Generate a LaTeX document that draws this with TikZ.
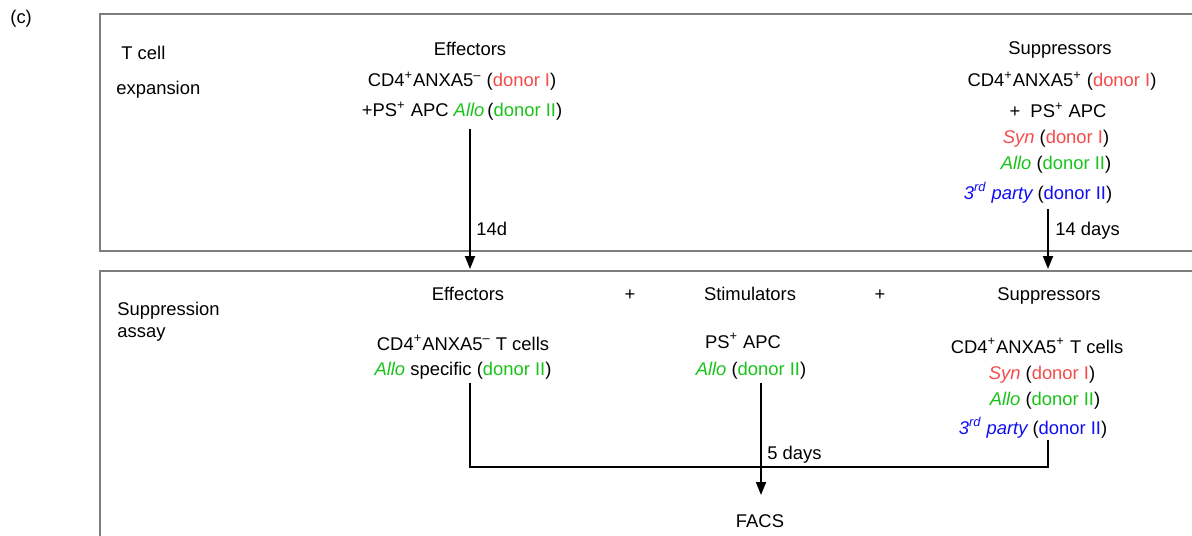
\documentclass[tikz,border=0pt]{standalone}
\usepackage{fontspec}
\setmainfont{Liberation Sans}
\usetikzlibrary{arrows.meta}
\definecolor{dred}{RGB}{245,75,75}
\definecolor{dgreen}{RGB}{25,195,25}
\definecolor{dblue}{RGB}{15,15,240}
\definecolor{frmgray}{RGB}{125,125,125}
\newcommand{\donI}{(\textcolor{dred}{donor I})}
\newcommand{\donII}{(\textcolor{dgreen}{donor II})}
\newcommand{\donIIb}{(\textcolor{dblue}{donor II})}
\newcommand{\allo}{\textcolor{dgreen}{\itshape Allo}}
\newcommand{\syn}{\textcolor{dred}{\itshape Syn}}
\newcommand{\third}{\textcolor{dblue}{\itshape 3\textsuperscript{rd} party}}
\newcommand{\supr}[1]{\textsuperscript{#1}}
\tikzset{
  pane/.style={draw=frmgray, line width=0.7pt},
  txt/.style={font=\fontsize{9.2}{11}\selectfont, inner sep=0pt, anchor=base},
  ltxt/.style={txt, anchor=base west},
  flow/.style={line width=0.9pt},
  arr/.style={flow, -{Triangle[width=5pt,length=6.5pt]}}
}
\begin{document}
\begin{tikzpicture}[x=0.5pt, y=-0.5pt]
    \useasboundingbox (0,0) rectangle (1192,535);
    \clip (0,0) rectangle (1192,535);
    % frames
    \draw[pane] (100,14) rectangle (1210,251);
    \draw[pane] (100,271) rectangle (1210,560);
    \node[ltxt] (tag) at (10,24) {(c)};
    % T cell expansion
    \node[ltxt] (tcA) at (121,60) {T cell};
    \node[ltxt] (tcB) at (116,95) {expansion};
    \node[txt] (teH) at (470,56) {Effectors};
    \node[txt] (teA) at (462,87) {CD4\supr{+}ANXA5\supr{–} \donI};
    \node[txt] (teB) at (462,117) {+PS\supr{+} APC \allo\,\donII};
    \node[txt] (tsH) at (1060,55) {Suppressors};
    \node[txt] (tsA) at (1062,87) {CD4\supr{+}ANXA5\supr{+} \donI};
    \node[txt] (tsB) at (1058,118) {+\ \ PS\supr{+} APC};
    \node[txt] (tsC) at (1056,143) {\syn\ \donI};
    \node[txt] (tsD) at (1056,169) {\allo\ \donII};
    \node[txt] (tsE) at (1038,199) {\third\ \donIIb};
    \coordinate (ta) at (470,269);
    \coordinate (tb) at (1048,269);
    \draw[arr] ([yshift=-4pt]teB.south -| ta) -- (ta);
    \draw[arr] ([yshift=-3pt]tsE.south -| tb) -- (tb);
    \node[ltxt] (dA) at (476,235) {14d};
    \node[ltxt] (dB) at (1055,235) {14 days};
    % suppression assay
    \node[ltxt] (saA) at (117,315) {Suppression};
    \node[ltxt] (saB) at (117,337) {assay};
    \node[txt] (beH) at (468,300) {Effectors};
    \node[txt] (plA) at (630,300) {+};
    \node[txt] (bmH) at (750,300) {Stimulators};
    \node[txt] (plB) at (880,300) {+};
    \node[txt] (bsH) at (1049,300) {Suppressors};
    \node[txt] (beA) at (463,350) {CD4\supr{+}ANXA5\supr{–} T cells};
    \node[txt] (beB) at (463,375) {\allo\ specific \donII};
    \node[txt] (bmA) at (743,348) {PS\supr{+} APC};
    \node[txt] (bmB) at (751,375) {\allo\ \donII};
    \node[txt] (bsA) at (1037,353) {CD4\supr{+}ANXA5\supr{+} T cells};
    \node[txt] (bsB) at (1042,379) {\syn\ \donI};
    \node[txt] (bsC) at (1045,405) {\allo\ \donII};
    \node[txt] (bsD) at (1033,434) {\third\ \donIIb};
    \node[txt] (facs) at (760,527) {FACS};
    \coordinate (jl) at (470,467);
    \coordinate (jr) at (1048,467);
    \coordinate (jm) at (761,495);
    \draw[flow] ([yshift=-2pt]beB.south -| jl) -- (jl) -- (jr) -- ([yshift=-1pt]bsD.south -| jr);
    \draw[arr] ([yshift=-2pt]bmB.south -| jm) -- (jm);
    \node[ltxt] (dC) at (767,459) {5 days};
\end{tikzpicture}
\end{document}
